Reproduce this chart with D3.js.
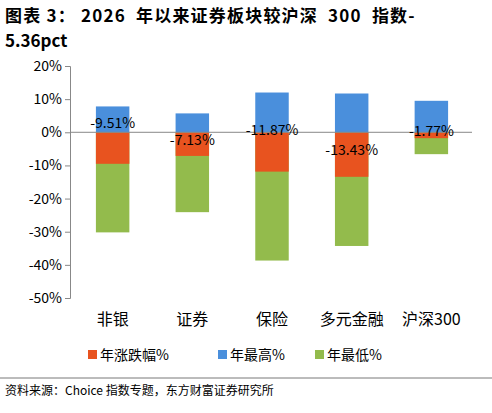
<!DOCTYPE html><html><head><meta charset="utf-8"><script src="https://cdn.jsdelivr.net/npm/d3@7"></script>
<style>body{margin:0;background:#fff}text{font-family:"Noto Sans CJK SC","Liberation Sans",sans-serif}</style></head><body>
<svg id="c" width="492" height="413"></svg>
<script>
const categories=["非银","证券","保险","多元金融","沪深300"];
const yearChange=[-9.51,-7.13,-11.87,-13.43,-1.77];
const yearHigh=[7.8,5.7,12.0,11.7,9.5];
const yearLow=[-30.2,-24.1,-38.7,-34.3,-6.6];
const yTicks=[20,10,0,-10,-20,-30,-40,-50];
const seriesNames=["年涨跌幅%","年最高%","年最低%"];
const colors=["#e8531f","#4a8fdc","#93bb4c"];
const labelDy=[-4,13,3,23,4];
const svg=d3.select("#c");
svg.append("text").attr("x",5).attr("y",22).attr("font-size",17).attr("font-weight","bold").attr("letter-spacing",1.2).style("white-space","pre").text("图表 3： 2026  年以来证券板块较沪深  300  指数-");
svg.append("text").attr("x",5).attr("y",47).attr("font-size",17).attr("font-weight","bold").text("5.36pct");
const x=d3.scaleBand().domain(categories).range([72,472]).paddingInner(0.58).paddingOuter(0.3);
const y=d3.scaleLinear().domain([-50,20]).range([298,66]);
const ax=svg.append("g").attr("transform","translate(70,0)").call(d3.axisLeft(y).tickValues(yTicks).tickFormat(d=>d+"%").tickSize(5));
ax.selectAll("text").attr("font-size",14).attr("font-family","Liberation Sans").attr("fill","#000");
ax.select(".domain").attr("stroke","#888");ax.selectAll("line").attr("stroke","#888");
[[yearLow,2],[yearChange,0],[yearHigh,1]].forEach(([arr,ci])=>{
 svg.append("g").selectAll("rect").data(arr).join("rect").attr("x",(d,i)=>x(categories[i])).attr("width",x.bandwidth())
 .attr("y",d=>y(Math.max(0,d))).attr("height",d=>Math.abs(y(d)-y(0))).attr("fill",colors[ci]);
});
svg.append("line").attr("x1",70).attr("x2",472).attr("y1",y(0)).attr("y2",y(0)).attr("stroke","#888");
svg.append("g").selectAll("text").data(yearChange).join("text").attr("x",(d,i)=>x(categories[i])+x.bandwidth()/2)
 .attr("y",(d,i)=>y(0)+labelDy[i]).attr("text-anchor","middle").attr("font-size",14).attr("font-family","Liberation Sans").text(d=>d.toFixed(2)+"%");
svg.append("g").selectAll("text").data(categories).join("text").attr("x",d=>x(d)+x.bandwidth()/2).attr("y",325)
 .attr("text-anchor","middle").attr("font-size",16).text(d=>d);
const lx=[88,218,315];
seriesNames.forEach((n,i)=>{
 svg.append("rect").attr("x",lx[i]).attr("y",350).attr("width",9).attr("height",9).attr("fill",colors[i]);
 svg.append("text").attr("x",lx[i]+12).attr("y",360).attr("font-size",14).text(n);
});
svg.append("line").attr("x1",0).attr("x2",492).attr("y1",378).attr("y2",378).attr("stroke","#555").attr("stroke-width",0.8);
svg.append("text").attr("x",5).attr("y",395).attr("font-size",12).text("资料来源：Choice 指数专题，东方财富证券研究所");
</script></body></html>
